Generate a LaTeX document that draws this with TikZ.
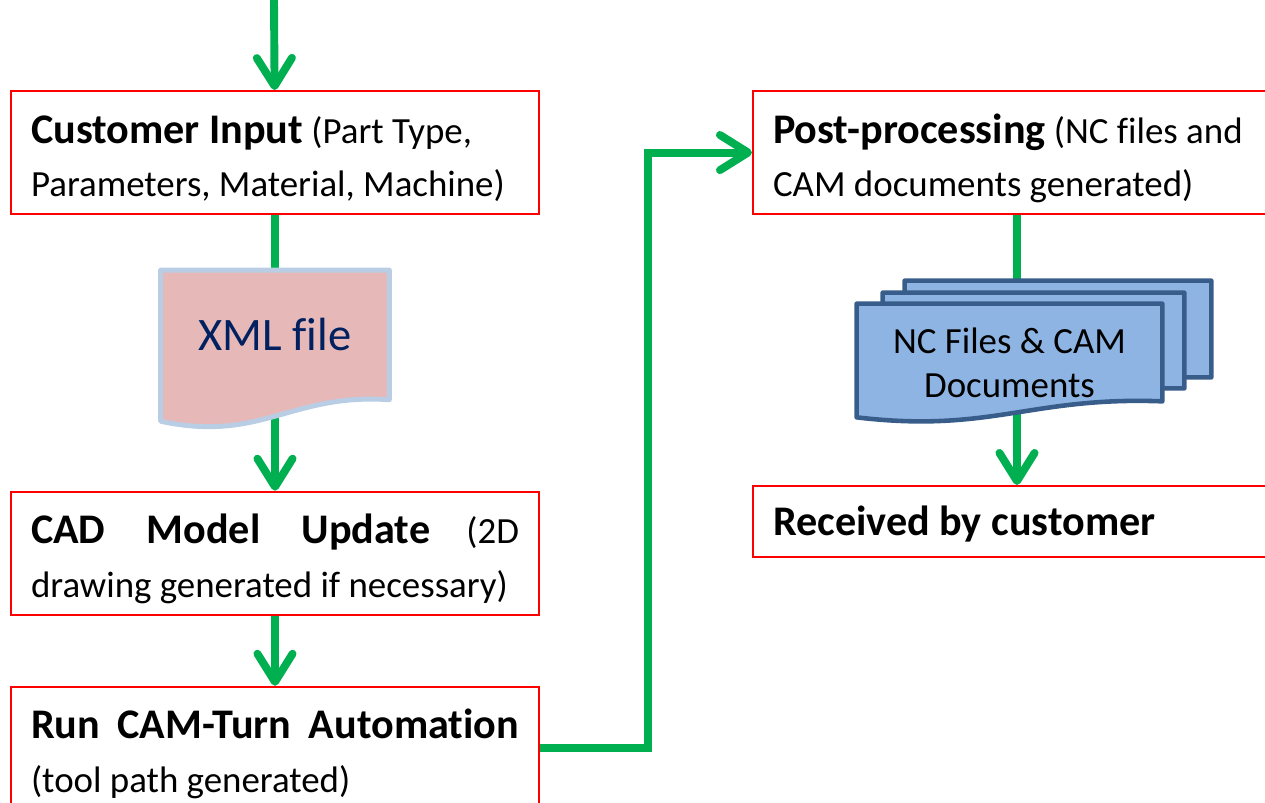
\documentclass[tikz,border=0pt]{standalone}
\usepackage{fontspec}
\setmainfont{Carlito}[Ligatures=NoCommon]
\usetikzlibrary{positioning,calc,arrows.meta,backgrounds}
\definecolor{flowg}{RGB}{0,176,80}
\definecolor{flowr}{RGB}{255,0,0}
\definecolor{xmlf}{RGB}{230,185,184}
\definecolor{xmll}{RGB}{185,205,229}
\definecolor{xmlt}{RGB}{0,32,96}
\definecolor{ncf}{RGB}{142,180,227}
\definecolor{ncl}{RGB}{56,93,138}
\newcommand{\steptitle}[1]{{\fontsize{24}{30.6}\selectfont\bfseries #1}}
\pgfdeclarelayer{wires}
\pgfsetlayers{wires,background,main}
% document outline with a wavy bottom, taken from the corners of a node
\newcommand{\docshape}[3]{%
  \path[#2] (#1.north west) -- (#1.north east) -- (#1.south east)
    .. controls ($(#1.south west)!.57!(#1.south east)+(0,{-0.16*#3})$)
    and ($(#1.south west)!.44!(#1.south east)+(0,#3)$)
    .. ($(#1.south west)+(0,{0.5*#3})$) -- cycle;}
\tikzset{
	every node/.style = { font=\fontsize{21}{30.6}\selectfont },
	stepbox/.style = { rectangle, draw=flowr, line width=1.2pt, fill=white, anchor=north west,
		minimum width=10.56cm, minimum height=2.46cm, text width=9.76cm, inner xsep=0.4cm, inner ysep=0pt,
		text height=1.04cm, text depth=1.42cm,
		execute at begin node={\spaceskip=0pt\xspaceskip=0pt\rightskip=0pt\hyphenpenalty=10000} },
	slot/.style = { rectangle, inner sep=0pt },
	xmldoc/.style = { fill=xmlf, draw=xmll, line width=2.8pt, line join=round },
	ncdoc/.style = { fill=ncf, draw=ncl, line width=2.6pt, line join=round },
	flow/.style = { draw=flowg, line width=4.5pt },
	flowarrow/.style = { flow, -{Straight Barb[length=16pt, width=20pt, round]} },
}
\begin{document}
\begin{tikzpicture}[x=0.02cm, y=-0.02cm]
\useasboundingbox (0,0) rectangle (1265,802);

\node (cust) [stepbox] at (10,90) {\steptitle{Customer Input} (Part Type,\\Parameters, Material, Machine)};
\node (xml)  [slot, minimum width=4.56cm, minimum height=2.58cm, below=1.1cm of cust,
              font=\fontsize{26.5}{32}\selectfont, text=xmlt] {XML file};
\node (cad)  [stepbox, below=1.82cm of xml] {\steptitle{CAD Model Update} (2D\linebreak drawing generated if necessary)};
\node (run)  [stepbox, below=1.4cm of cad] {\steptitle{Run CAM-Turn Automation}\linebreak (tool path generated)};

\node (post) [stepbox] at (752,90) {\steptitle{Post-processing} (NC files and\\CAM documents generated)};
\node (nc3)  [slot, minimum width=6.12cm, minimum height=1.92cm] at (1058,329) {};
\node (nc2)  [slot, minimum width=6.02cm, minimum height=1.9cm] at (1033.5,340.5) {};
\node (nc1)  [slot, minimum width=6.1cm, minimum height=1.94cm,
              label={[yshift=-0.2cm, align=center, font=\fontsize{21}{25}\selectfont]center:{NC Files \& CAM\\Documents}}] at (1009.5,352.5) {};
\node (recv) [stepbox, minimum height=1.42cm, text height=0.98cm, text depth=0.44cm] at (752,485) {\steptitle{Received by customer}};

\begin{pgfonlayer}{background}
\docshape{xml}{xmldoc}{43}
\docshape{nc3}{ncdoc}{0}
\docshape{nc2}{ncdoc}{0}
\docshape{nc1}{ncdoc}{32}
\end{pgfonlayer}

\coordinate (entry) at (274,0);
\begin{pgfonlayer}{wires}
\draw[flowarrow] (entry) -- (cust);
\draw[flow] (cust) -- (xml);
\draw[flowarrow] (xml) -- (cad);
\draw[flowarrow] (cad) -- (run);
\draw[flowarrow] (run.east) -- ++(108,0) |- (post.west);
\draw[flow] (post) -- (post|-nc3.center);
\draw[flowarrow] (recv|-nc1.center) -- (recv);
\end{pgfonlayer}

\end{tikzpicture}
\end{document}
